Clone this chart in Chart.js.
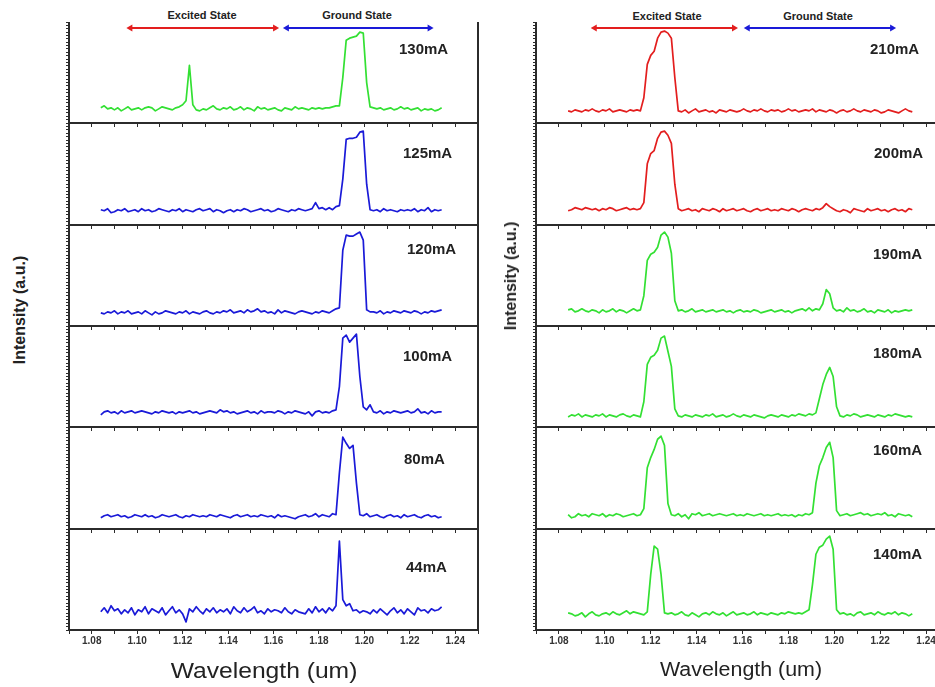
<!DOCTYPE html>
<html><head><meta charset="utf-8">
<script src="https://cdn.jsdelivr.net/npm/chart.js@4.4.1/dist/chart.umd.min.js"></script>
<style>
body{margin:0;background:#fff;width:935px;height:687px;overflow:hidden;position:relative;font-family:"Liberation Sans",Arial,sans-serif;}
.p{position:absolute}
.t{position:absolute;white-space:nowrap;color:#222;font-weight:bold;line-height:1}
</style></head><body>
<script>
// ---------- DATA ----------
const wavelength = [
1.0840,1.0855,1.0870,1.0885,1.0900,1.0915,1.0930,1.0945,1.0960,1.0975,
1.0990,1.1005,1.1020,1.1035,1.1050,1.1065,1.1080,1.1095,1.1110,1.1125,
1.1140,1.1155,1.1170,1.1185,1.1200,1.1215,1.1230,1.1245,1.1260,1.1275,
1.1290,1.1305,1.1320,1.1335,1.1350,1.1365,1.1380,1.1395,1.1410,1.1425,
1.1440,1.1455,1.1470,1.1485,1.1500,1.1515,1.1530,1.1545,1.1560,1.1575,
1.1590,1.1605,1.1620,1.1635,1.1650,1.1665,1.1680,1.1695,1.1710,1.1725,
1.1740,1.1755,1.1770,1.1785,1.1800,1.1815,1.1830,1.1845,1.1860,1.1875,
1.1890,1.1905,1.1920,1.1935,1.1950,1.1965,1.1980,1.1995,1.2010,1.2025,
1.2040,1.2055,1.2070,1.2085,1.2100,1.2115,1.2130,1.2145,1.2160,1.2175,
1.2190,1.2205,1.2220,1.2235,1.2250,1.2265,1.2280,1.2295,1.2310,1.2325,
1.2340];

const xTicks = [1.07,1.08,1.09,1.10,1.11,1.12,1.13,1.14,1.15,1.16,1.17,1.18,1.19,1.20,1.21,1.22,1.23,1.24,1.25];
const xTickLabels = ['1.08','1.10','1.12','1.14','1.16','1.18','1.20','1.22','1.24'];

const leftCurrents = ['130mA','125mA','120mA','100mA','80mA','44mA'];
const rightCurrents = ['210mA','200mA','190mA','180mA','160mA','140mA'];

const i130mA = [
15,17,14,15,13,15,12,14,16,13, 14,15,13,15,16,15,12,14,16,15,
14,13,15,16,18,22,57,18,13,12, 14,13,15,17,14,13,15,14,16,13,
14,16,13,15,14,12,16,14,15,13, 14,15,13,12,15,14,13,16,14,15,
14,13,15,14,15,14,15,15,16,17, 17,45,82,84,85,86,90,89,40,16,
15,14,15,13,14,15,13,14,16,14, 15,13,14,15,12,14,13,14,12,13, 15];
const i125mA = [
15,14,16,12,13,15,14,16,13,14, 15,13,16,14,15,13,14,16,15,14,
13,15,14,16,13,15,14,13,15,16, 14,15,16,13,15,14,12,14,15,13,
15,14,16,15,13,14,15,16,14,15, 13,14,16,15,14,13,15,14,16,15,
14,15,16,22,16,17,15,17,15,18, 19,45,84,85,85,86,91,92,40,15,
14,15,13,16,14,15,14,13,15,14, 15,14,16,13,15,14,17,13,15,14, 15];
const i120mA = [
13,12,14,13,15,12,14,13,15,12, 13,14,12,15,13,11,14,12,13,15,
14,13,12,14,13,15,12,14,13,12, 14,15,13,12,14,13,15,14,16,13,
14,15,13,16,14,15,17,14,15,13, 14,12,16,13,15,14,13,12,14,15,
14,13,12,14,13,15,14,13,15,17, 18,75,90,89,89,91,93,85,16,14,
14,13,15,12,14,13,15,14,13,15, 14,13,15,14,12,14,13,15,14,15, 16];
const i100mA = [
12,15,16,14,15,13,16,14,15,16, 14,15,16,15,14,13,15,14,16,15,
14,15,13,15,14,15,16,14,15,13, 14,15,16,15,14,17,15,16,14,15,
13,14,15,16,14,15,13,16,14,15, 15,14,16,15,13,15,14,16,15,14,
13,15,11,15,16,14,15,14,16,17, 40,88,91,84,88,92,50,20,17,22,
15,14,16,13,15,14,16,15,14,15, 16,14,15,18,14,15,13,16,14,15, 15];
const i80mA = [
11,13,14,12,13,14,12,13,11,12, 14,13,12,14,12,13,11,12,14,13,
12,13,14,12,11,13,12,14,13,12, 13,12,14,13,12,14,13,12,11,13,
14,12,13,14,12,13,12,14,13,12, 13,11,14,12,13,12,11,10,12,13,
14,12,13,15,12,14,13,12,15,14, 55,90,84,79,82,45,14,13,15,12,
13,14,12,11,13,14,12,13,11,14, 12,13,14,12,11,13,14,12,13,11, 12];
const i44mA = [
18,22,17,24,19,21,16,20,17,22, 15,20,18,23,16,21,19,17,22,15,
19,23,17,20,16,8,21,18,23,19, 16,21,18,22,17,20,18,21,16,23,
19,17,22,18,20,23,17,19,16,21, 18,20,19,17,22,18,16,20,18,17,
16,21,17,23,18,21,17,22,19,24, 88,30,24,26,19,20,17,19,18,16,
20,17,21,18,15,19,22,17,20,16, 21,18,15,22,19,20,17,21,19,20, 23];

const i210mA = [
12,11,13,12,11,13,12,14,12,11, 13,12,14,11,12,13,12,11,13,12,
13,12,25,58,67,71,84,90,91,89, 84,45,12,11,13,10,12,14,11,12,
13,11,12,10,13,12,11,13,12,11, 12,14,12,11,13,12,14,12,11,13,
12,13,11,12,14,12,13,11,12,13, 12,14,11,13,12,11,13,12,10,12,
13,11,12,14,12,11,13,12,11,13, 12,10,11,13,12,11,10,12,14,12, 11];
const i200mA = [
14,15,17,16,15,17,16,15,16,14, 16,15,17,16,14,15,16,17,15,16,
15,16,22,60,70,73,85,91,92,88, 80,40,16,14,15,16,14,15,13,16,
15,14,16,15,13,16,14,15,16,14, 15,16,14,13,15,16,14,15,16,14,
15,14,16,15,14,16,15,13,15,16, 15,14,16,15,17,21,18,16,14,13,
15,14,12,16,15,14,13,16,14,15, 16,14,15,13,15,16,14,15,13,16, 15];
const i190mA = [
16,17,14,15,17,15,14,16,15,13, 16,14,15,17,14,16,15,13,15,17,
15,16,30,65,71,73,78,90,93,88, 72,25,15,16,14,15,17,14,15,16,
14,15,16,14,15,16,14,15,13,15, 16,14,15,14,16,15,13,14,15,16,
14,15,16,14,15,13,15,16,17,15, 18,15,17,16,22,36,32,18,15,16,
14,18,15,16,14,15,17,14,15,13, 16,15,14,16,13,15,14,15,16,15, 16];
const i180mA = [
10,12,11,13,10,12,11,10,12,11, 13,10,12,11,10,12,13,11,10,12,
11,10,25,62,69,71,76,88,90,75, 60,18,11,10,12,11,10,12,11,10,
12,11,13,10,11,12,10,11,13,11, 10,12,11,10,12,11,10,9,11,12,
11,10,12,11,10,12,11,13,12,11, 13,12,14,28,42,52,59,50,20,11,
10,12,11,13,12,10,11,12,11,10, 12,11,10,12,11,13,12,11,10,11, 10];
const i160mA = [
14,11,12,15,13,14,12,15,14,13, 15,12,14,13,15,14,12,13,14,15,
13,14,20,60,70,78,88,91,82,25, 14,13,15,12,14,10,15,14,16,13,
14,15,13,14,15,14,13,14,15,13, 14,13,15,14,13,14,15,13,14,13,
14,15,13,14,13,14,12,14,13,15, 14,16,45,62,70,80,85,70,18,13,
14,15,13,14,15,16,14,15,13,14, 15,14,16,13,14,12,15,14,13,14, 12];
const i140mA = [
17,16,14,15,17,13,16,18,15,14, 16,17,15,18,16,15,17,19,16,18,
17,16,15,18,55,83,80,55,17,16, 17,15,16,18,15,14,17,15,13,16,
17,15,18,16,15,17,14,16,18,15, 16,17,15,16,18,15,17,16,15,17,
16,15,17,16,18,17,16,17,16,18, 20,45,75,82,84,90,93,80,20,16,
17,15,16,14,17,18,15,16,17,15, 18,16,15,17,16,18,15,17,16,14, 16];

const leftSeries = [i130mA, i125mA, i120mA, i100mA, i80mA, i44mA];
const rightSeries = [i210mA, i200mA, i190mA, i180mA, i160mA, i140mA];

const excitedArrowL = [1.0970, 1.1607];
const groundArrowL  = [1.1659, 1.2287];
const excitedArrowR = [1.0956, 1.1563];
const groundArrowR  = [1.1623, 1.2252];
const arrowLevel = 94;

// ---------- STYLE / LAYOUT ----------
const GREEN = '#33e033', BLUE = '#1a1ad8', RED = '#e31e1e', AXIS = '#2b2b2b';
const FONT = '"Liberation Sans", Arial, sans-serif';
const leftColors = [GREEN, BLUE, BLUE, BLUE, BLUE, BLUE];
const rightColors = [RED, RED, GREEN, GREEN, GREEN, GREEN];
const ROWS = [22, 123, 225, 326, 427, 529, 630];
const COLS = [[69, 478], [536, 949]];

function fmt(v){ return (Math.round(v*100)/100).toFixed(2); }

function makePanel(col, row, values, color, arrows) {
  const [plotL, plotR] = COLS[col];
  const top = ROWS[row], bot = ROWS[row+1];
  const isBottom = row === 5;
  const yW = 10, rW = 2, xH = isBottom ? 30 : 5;
  const div = document.createElement('div');
  div.className = 'p';
  div.style.left = (plotL - yW) + 'px';
  div.style.top = top + 'px';
  div.style.width = (plotR - plotL + yW + rW) + 'px';
  div.style.height = (bot - top + xH) + 'px';
  const cv = document.createElement('canvas');
  div.appendChild(cv);
  document.body.appendChild(div);

  const datasets = [{
    data: wavelength.map((w, i) => ({x: w, y: values[i]})),
    borderColor: color, borderWidth: 1.7, pointRadius: 0, tension: 0, yAxisID: 'y',
    borderJoinStyle: 'round'
  }];
  if (arrows) {
    arrows.forEach(a => datasets.push({
      data: a.x.map(v => ({x: v, y: arrowLevel})),
      borderColor: a.c, backgroundColor: a.c, borderWidth: 2,
      pointStyle: 'triangle', pointRadius: 4, pointBorderWidth: 0,
      rotation: ctx => ctx.dataIndex === 0 ? -90 : 90, yAxisID: 'y'
    }));
  }

  new Chart(cv, {
    type: 'line',
    data: { datasets },
    options: {
      animation: false, responsive: true, maintainAspectRatio: false,
      layout: { padding: 0, autoPadding: false },
      plugins: { legend: { display: false }, tooltip: { enabled: false } },
      scales: {
        x: {
          type: 'linear', min: 1.07, max: 1.25, position: 'bottom',
          afterBuildTicks: s => { s.ticks = xTicks.map(v => ({value: v})); },
          afterFit: s => { s.height = xH; },
          grid: { display: true, drawOnChartArea: false, drawTicks: true, tickLength: 4, color: AXIS, lineWidth: 1 },
          border: { display: true, color: AXIS, width: 2 },
          ticks: {
            display: isBottom, autoSkip: false, maxRotation: 0, padding: 1, color: '#333',
            font: { size: 10, weight: 'bold', family: FONT },
            callback: v => xTickLabels.includes(fmt(v)) ? fmt(v) : ''
          }
        },
        y: {
          min: 0, max: 100, position: 'left',
          afterBuildTicks: s => { const t = []; for (let k = 0; k <= 30; k++) t.push({value: k * 100 / 30}); s.ticks = t; },
          afterFit: s => { s.width = yW; },
          grid: { display: true, drawOnChartArea: false, tickLength: 3, color: AXIS, lineWidth: 1 },
          border: { display: true, color: AXIS, width: 2 },
          ticks: { display: false }
        },
        yr: {
          min: 0, max: 100, position: 'right', display: true,
          afterFit: s => { s.width = rW; },
          grid: { display: false },
          border: { display: true, color: AXIS, width: 2 },
          ticks: { display: false }
        }
      }
    }
  });
}

function addText(txt, x, y, size, opts) {
  const d = document.createElement('div');
  d.className = 't';
  d.textContent = txt;
  d.style.left = x + 'px';
  d.style.top = y + 'px';
  d.style.fontSize = size + 'px';
  if (opts && opts.weight) d.style.fontWeight = opts.weight;
  d.style.transform = (opts && opts.transform) || 'translate(0,-50%)';
  document.body.appendChild(d);
}

for (let r = 0; r < 6; r++) {
  makePanel(0, r, leftSeries[r], leftColors[r],
    r === 0 ? [{x: excitedArrowL, c: RED}, {x: groundArrowL, c: BLUE}] : null);
  makePanel(1, r, rightSeries[r], rightColors[r],
    r === 0 ? [{x: excitedArrowR, c: RED}, {x: groundArrowR, c: BLUE}] : null);
}

// current labels
const leftLabelPos = [[399,47.5],[403,151.5],[407,248],[403,354.5],[404,458],[406,566]];
const rightLabelPos = [[870,47.5],[874,152],[873,252.5],[873,352],[873,448.5],[873,552.5]];
leftCurrents.forEach((t, i) => addText(t, leftLabelPos[i][0], leftLabelPos[i][1], 15));
rightCurrents.forEach((t, i) => addText(t, rightLabelPos[i][0], rightLabelPos[i][1], 15));

// state labels
addText('Excited State', 202, 15, 11, {transform: 'translate(-50%,-50%)'});
addText('Ground State', 357, 15, 11, {transform: 'translate(-50%,-50%)'});
addText('Excited State', 667, 16, 11, {transform: 'translate(-50%,-50%)'});
addText('Ground State', 818, 16, 11, {transform: 'translate(-50%,-50%)'});

// axis titles
addText('Intensity (a.u.)', 20, 310, 16, {transform: 'translate(-50%,-50%) rotate(-90deg)'});
addText('Intensity (a.u.)', 511, 276, 16, {transform: 'translate(-50%,-50%) rotate(-90deg)'});
addText('Wavelength (um)', 264, 671, 22, {weight: 'normal', transform: 'translate(-50%,-50%) scaleX(1.12)'});
addText('Wavelength (um)', 741, 669, 20, {weight: 'normal', transform: 'translate(-50%,-50%) scaleX(1.07)'});
</script>
</body></html>
